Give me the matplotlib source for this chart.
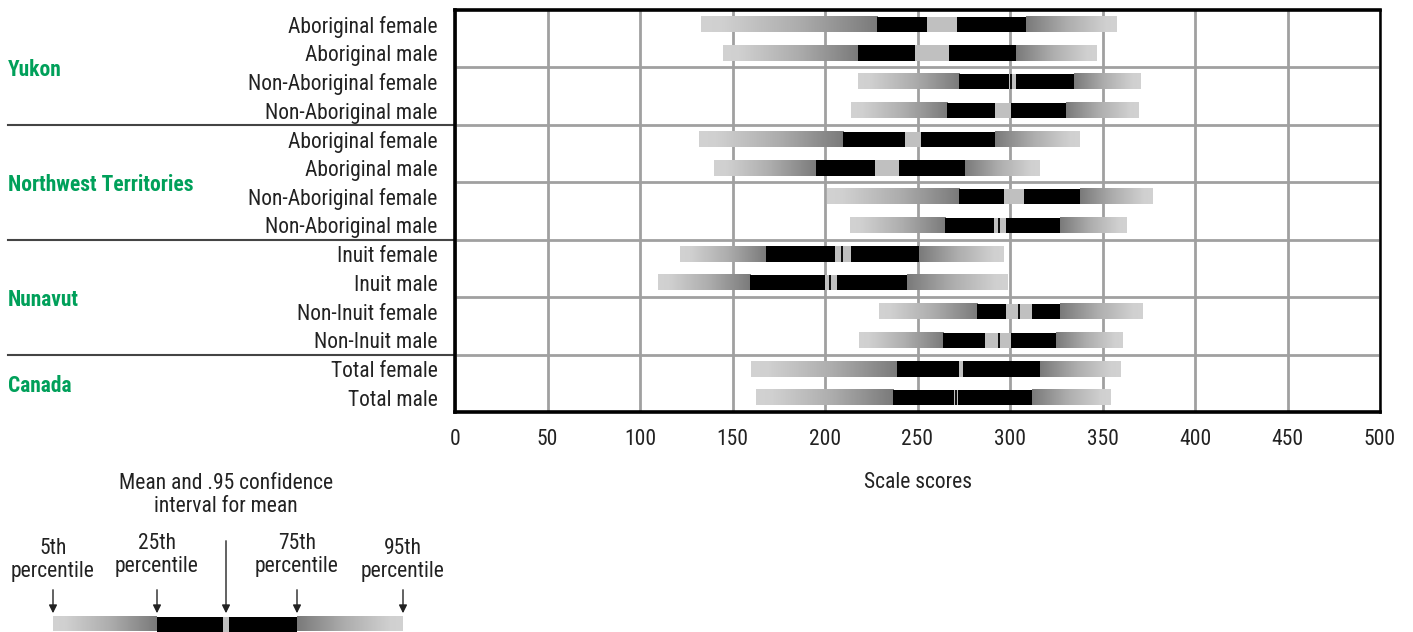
import numpy as np
import matplotlib
matplotlib.use("Agg")
import matplotlib.pyplot as plt
import matplotlib.transforms as mtransforms
from matplotlib.colors import LinearSegmentedColormap

plt.rcParams["font.family"] = ["Roboto Condensed", "Liberation Sans Narrow", "Liberation Sans", "DejaVu Sans"]

# -----------------------------
# data (scale scores)
# -----------------------------
groups = ["Yukon", "Northwest Territories", "Nunavut", "Canada"]
group_sizes = [4, 4, 4, 2]
labels = [
    "Aboriginal female", "Aboriginal male", "Non-Aboriginal female", "Non-Aboriginal male",
    "Aboriginal female", "Aboriginal male", "Non-Aboriginal female", "Non-Aboriginal male",
    "Inuit female", "Inuit male", "Non-Inuit female", "Non-Inuit male",
    "Total female", "Total male",
]
p5 = [132.8, 144.7, 217.9, 214.1, 131.7, 139.8, 201.1, 213.6, 121.4, 109.5, 229.3, 218.4, 159.9, 162.6]
p25 = [228.2, 217.9, 272.6, 266.1, 209.8, 195.1, 272.6, 265.0, 168.0, 159.3, 282.4, 264.0, 239.0, 236.9]
ci_low = [255.3, 248.8, 299.7, 292.1, 243.4, 227.1, 296.5, 291.1, 205.4, 200.0, 297.6, 286.7, 272.6, 269.9]
ci_high = [271.5, 267.2, 303.5, 300.8, 252.0, 240.1, 307.3, 297.6, 214.1, 206.5, 311.7, 300.8, 274.8, 272.1]
mean = [np.nan, np.nan, 300.8, np.nan, np.nan, np.nan, np.nan, 293.8, 209.2, 202.7, 304.6, 293.8, np.nan, 271.0]
p75 = [308.4, 303.0, 334.4, 330.1, 292.1, 275.9, 337.7, 326.8, 251.0, 244.4, 326.8, 324.7, 316.0, 311.7]
p95 = [357.2, 346.3, 370.2, 369.1, 337.7, 316.0, 376.7, 362.6, 296.5, 298.6, 371.3, 360.4, 359.3, 353.9]

# key example (position of the markers in the legend sketch)
key_vals = [53, 157, 223, 229, 297, 403]
key_mean = 226
key_texts = ["5th\npercentile", "25th\npercentile", "75th\npercentile", "95th\npercentile"]

GREEN = "#00a05a"
TXT = "#222222"
CI_GRAY = "#c0c0c0"
FS = 15.5
grad = LinearSegmentedColormap.from_list(
    "grad", [(0, "#d2d2d2"), (0.12, "#d0d0d0"), (0.55, "#adadad"), (1, "#7a7a7a")], N=256)
ramp = np.linspace(0, 1, 256).reshape(1, -1)


def draw_bar(ax, y, h, v5, v25, lo, hi, v75, v95, m):
    ax.imshow(ramp, extent=[v5, v25, y + h / 2, y - h / 2], cmap=grad,
              aspect="auto", interpolation="bilinear", zorder=3)
    ax.imshow(ramp[:, ::-1], extent=[v75, v95, y + h / 2, y - h / 2], cmap=grad,
              aspect="auto", interpolation="bilinear", zorder=3)
    ax.barh(y, lo - v25, left=v25, height=h, color="black", zorder=3)
    ax.barh(y, hi - lo, left=lo, height=h, color=CI_GRAY, zorder=3)
    ax.barh(y, v75 - hi, left=hi, height=h, color="black", zorder=3)
    if not np.isnan(m):
        ax.plot([m, m], [y - h / 2, y + h / 2], color="black", lw=1.3, zorder=4,
                solid_capstyle="butt")


W, H = 1413, 632
fig = plt.figure(figsize=(W / 100, H / 100), dpi=100)
ax = fig.add_axes([455 / W, 1 - 412 / H, 925 / W, 402 / H])

n = len(labels)
ys = np.arange(n)
bar_h = 0.53
for i in range(n):
    draw_bar(ax, ys[i], bar_h, p5[i], p25[i], ci_low[i], ci_high[i], p75[i], p95[i], mean[i])

ax.set_xlim(0, 500)
ax.set_ylim(n - 0.5, -0.5)
ax.set_xticks(range(0, 501, 50))
ax.set_yticks(ys)
ax.set_yticklabels(labels)
ax.tick_params(axis="both", length=0, labelsize=FS, colors=TXT)
ax.tick_params(axis="x", pad=12)
ax.tick_params(axis="y", pad=12.5)
ax.grid(axis="x", color="#a0a0a0", lw=2, zorder=1)
for yy in np.arange(1.5, n - 1, 2):
    ax.axhline(yy, color="#a0a0a0", lw=2, zorder=1)
ax.set_axisbelow(True)
for side in ["top", "bottom", "left"]:
    ax.spines[side].set_linewidth(2.6)
ax.spines["right"].set_linewidth(1.8)
ax.set_xlabel("Scale scores", fontsize=FS, color=TXT, labelpad=16)

# group labels and separators on the left
trans = mtransforms.blended_transform_factory(ax.transAxes, ax.transData)
x_left = (8 - 455) / 925
start = 0
for g, size in zip(groups, group_sizes):
    centre = start + (size - 1) / 2 + 0.1
    ax.text(x_left, centre, g, transform=trans, ha="left", va="center",
            color=GREEN, fontsize=FS, fontweight="bold")
    if start + size < n:
        ax.plot([x_left, 0], [start + size - 0.5] * 2, transform=trans, color="#444444",
                lw=1.5, clip_on=False)
    start += size

# legend sketch
lax = fig.add_axes([0, 0, 450 / W, 180 / H])
ky = 624
draw_bar(lax, ky, 15, *key_vals, np.nan)
lax.set_xlim(0, 450)
lax.set_ylim(H, H - 180)
lax.axis("off")
for x in [key_vals[0], key_vals[1], key_vals[4], key_vals[5]]:
    lax.annotate("", xy=(x, 616), xytext=(x, 587),
                 arrowprops=dict(arrowstyle="-|>", color=TXT, lw=1, mutation_scale=12))
lax.annotate("", xy=(key_mean, 616), xytext=(key_mean, 538),
             arrowprops=dict(arrowstyle="-|>", color=TXT, lw=1, mutation_scale=12))
lax.text(key_mean, 495, "Mean and .95 confidence\ninterval for mean", ha="center", va="center",
         fontsize=FS, color=TXT, linespacing=1.1)
for x, t, yy in zip([key_vals[0], key_vals[1], key_vals[4], key_vals[5]], key_texts,
                    [560, 555, 555, 560]):
    lax.text(x, yy, t, ha="center", va="center", fontsize=FS, color=TXT, linespacing=1.1)

fig.savefig("out.png", dpi=100)
